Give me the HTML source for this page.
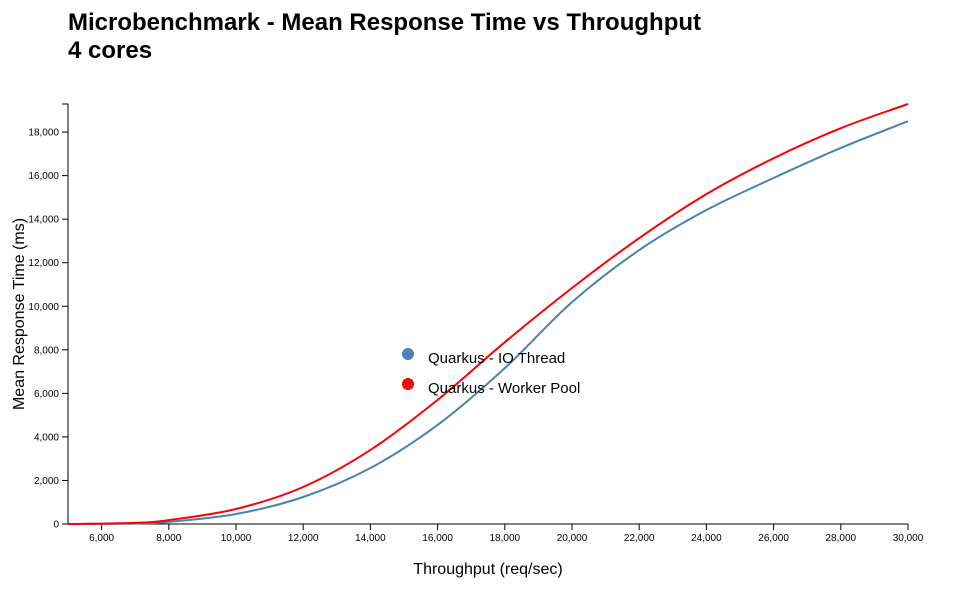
<!DOCTYPE html>
<html><head><meta charset="utf-8"><style>
body{margin:0;background:#fff;font-family:"Liberation Sans",sans-serif;}
svg text{font-family:"Liberation Sans",sans-serif;}
</style></head><body>
<svg id="chart" width="960" height="600">
<text x="68" y="30" font-size="24" font-weight="bold">Microbenchmark - Mean Response Time vs Throughput</text>
<text x="68" y="58" font-size="24" font-weight="bold">4 cores</text>
<g id="axes"></g>
<g id="series"></g>
<text x="488" y="574" font-size="16" text-anchor="middle">Throughput (req/sec)</text>
<text transform="translate(24,314) rotate(-90)" font-size="16" text-anchor="middle">Mean Response Time (ms)</text>
<g>
<circle cx="408" cy="354" r="6" fill="steelblue"/>
<text x="428" y="363" font-size="15">Quarkus - IO Thread</text>
<circle cx="408" cy="384" r="6" fill="red"/>
<text x="428" y="393" font-size="15">Quarkus - Worker Pool</text>
</g>
</svg>
<script>
const throughput=[5000,7000,8000,10000,12000,14000,16000,18000,20000,22000,24000,26000,28000,30000];
const ioThread=[0,20,100,460,1240,2570,4550,7160,10190,12580,14420,15890,17270,18500];
const workerPool=[0,50,180,690,1700,3400,5700,8350,10840,13130,15150,16800,18180,19290];
const xTicks=[6000,8000,10000,12000,14000,16000,18000,20000,22000,24000,26000,28000,30000];
const yTicks=[0,2000,4000,6000,8000,10000,12000,14000,16000,18000];
const NS="http://www.w3.org/2000/svg";
const x0=68,x1=908,y0=524,y1=104;
const xMin=5000,xMax=30000,yMax=Math.max(...ioThread,...workerPool);
const sx=v=>x0+(v-xMin)/(xMax-xMin)*(x1-x0);
const sy=v=>y0-v/yMax*(y0-y1);
const axes=document.getElementById('axes');
function el(t,a,p){const e=document.createElementNS(NS,t);for(const k in a)e.setAttribute(k,a[k]);p.appendChild(e);return e;}
const xa=el('path',{d:`M${x0},${y0}H${x1}`,stroke:'#000',fill:'none'},axes);


const ya=el('path',{d:`M${x0-6},${y1}H${x0}V${y0}H${x0-6}`,stroke:'#000',fill:'none'},axes);


xTicks.forEach(v=>{
 const x=sx(v);
 const t=el('line',{x1:x,x2:x,y1:y0,y2:y0+6,stroke:'#000'},axes);
 
 
 const l=el('text',{x:x,y:y0+17,'font-size':10,'text-anchor':'middle'},axes);
 l.textContent=v.toLocaleString('en-US');
 
 
});
yTicks.forEach(v=>{
 const y=sy(v);
 const t=el('line',{x1:x0-6,x2:x0,y1:y,y2:y,stroke:'#000'},axes);
 
 
 const l=el('text',{x:x0-9,y:y+3.5,'font-size':10,'text-anchor':'end'},axes);
 l.textContent=v.toLocaleString('en-US');
 
 
});
function path(vals){
 const p=throughput.map((t,i)=>[sx(t),sy(vals[i])]);
 let d=`M${p[0][0]},${p[0][1]}`;
 for(let i=0;i<p.length-1;i++){
  const a=p[i-1]||p[i],b=p[i],c=p[i+1],e=p[i+2]||c;
  const c1=[b[0]+(c[0]-a[0])/6,b[1]+(c[1]-a[1])/6],c2=[c[0]-(e[0]-b[0])/6,c[1]-(e[1]-b[1])/6];
  d+=`C${c1[0]},${c1[1]} ${c2[0]},${c2[1]} ${c[0]},${c[1]}`;
 }
 return d;
}
const s=document.getElementById('series');
const l1=el('path',{d:path(ioThread),stroke:'steelblue','stroke-width':2,fill:'none'},s);


const l2=el('path',{d:path(workerPool),stroke:'red','stroke-width':2,fill:'none'},s);


</script>
</body></html>
